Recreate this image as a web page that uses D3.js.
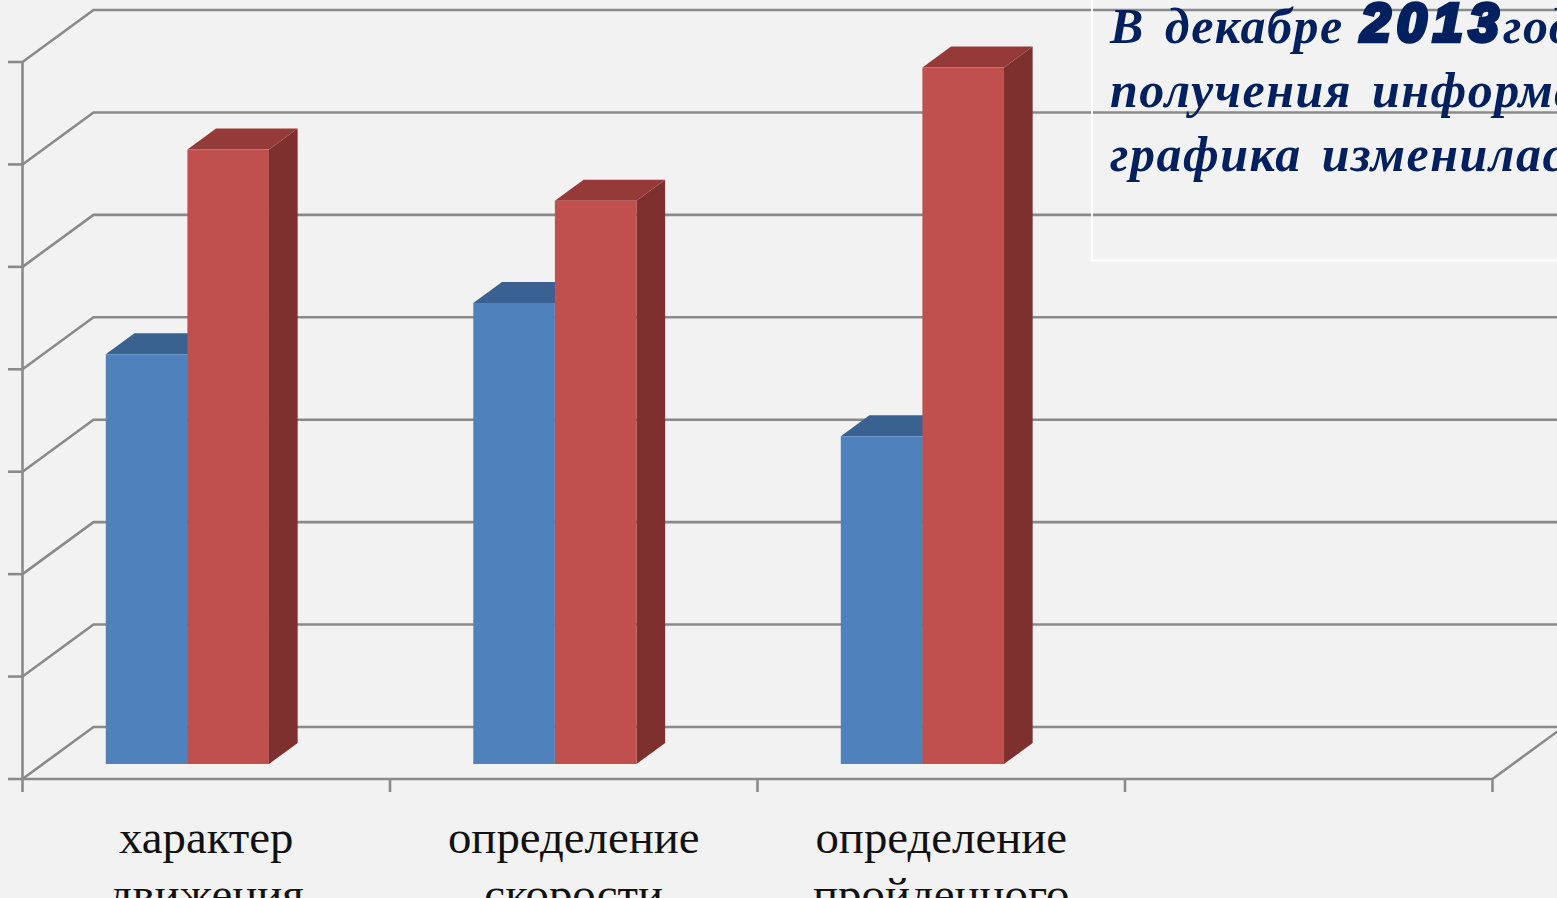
<!DOCTYPE html>
<html lang="ru">
<head>
<meta charset="utf-8">
<script src="https://cdnjs.cloudflare.com/ajax/libs/d3/7.8.5/d3.min.js"></script>
<style>
html, body { margin: 0; padding: 0; background: #f2f2f2; overflow: hidden; }
svg { display: block; }
.cat { font-family: "Liberation Serif", serif; font-size: 46.8px; fill: #111; text-anchor: middle; }
.note { font-family: "Liberation Serif", serif; font-style: italic; font-weight: bold; font-size: 50px; fill: #002060; letter-spacing: 1.5px; word-spacing: 6px; }
.year { font-family: "Liberation Sans", sans-serif; font-style: italic; font-weight: bold; font-size: 53px; fill: #002060; stroke: #002060; stroke-width: 4.5px; letter-spacing: 6.5px; }
</style>
</head>
<body>
<svg id="chart" width="1557" height="898"></svg>
<script>
// Survey results by task type, two series per group; the fourth slot stays empty.
const categories = ["характер движения", "определение скорости", "определение пройденного", ""];
const categoryLines = [["характер", "движения"], ["определение", "скорости"], ["определение", "пройденного"], []];
const seriesNames = ["a", "b"];
const seriesA = [40, 45, 32];
const seriesB = [60, 55, 68];
const valueTicks = [0, 10, 20, 30, 40, 50, 60, 70];
const noteLines = ["получения информации", "графика изменилась"];

const svg = d3.select("#chart");

// Plot box: front plane, and the shift from front plane to back wall.
const frontLeft = 22.5, frontRight = 1492.5, frontBottom = 779, frontTop = 62;
const wallDx = 71, wallDy = 52;
const barDepthStart = 15 / 52, barDepthEnd = 36 / 52;

const x = d3.scaleBand().domain(categories).range([frontLeft, frontRight]);
const xSeries = d3.scaleBand().domain(seriesNames).range([62.8, 226]);
const y = d3.scaleLinear().domain([0, 70]).range([frontBottom, frontTop]);

// Oblique projection: depth 0 is the front plane, 1 the back wall.
const project = (px, py, d) => [px + d * wallDx, py - d * wallDy];
const poly = pts => pts.map(p => p.join(",")).join(" ");

const gridColor = "#8a8a8a";
const axes = svg.append("g").attr("fill", "none").attr("stroke", gridColor).attr("stroke-width", 2.6);

valueTicks.forEach(v => {
  const [bx, by] = project(frontLeft, y(v), 1);
  axes.append("polyline").attr("points", poly([[frontLeft, y(v)], [bx, by], [1570, by]]));
  axes.append("line").attr("x1", 8).attr("x2", frontLeft).attr("y1", y(v)).attr("y2", y(v));
});

// Front axes and the floor's right edge.
axes.append("line").attr("x1", frontLeft).attr("x2", frontLeft).attr("y1", frontTop).attr("y2", frontBottom);
axes.append("line").attr("x1", frontLeft).attr("x2", frontRight).attr("y1", frontBottom).attr("y2", frontBottom);
axes.append("line").attr("x1", frontRight).attr("y1", frontBottom)
  .attr("x2", frontRight + wallDx).attr("y2", frontBottom - wallDy);

const tickXs = categories.map(c => x(c)).concat([frontRight]);
axes.selectAll("line.tick").data(tickXs).join("line").attr("class", "tick")
  .attr("x1", d => d).attr("x2", d => d).attr("y1", frontBottom).attr("y2", 792);

// Each bar is a front face plus darker top and side faces.
const palettes = {
  a: { front: "#4f81bd", top: "#3a6291", side: "#2f4f75" },
  b: { front: "#c0504d", top: "#953a38", side: "#7d302e" }
};

function drawBar(g, cat, name, value) {
  const left = x(cat) + xSeries(name), right = left + xSeries.bandwidth();
  const top = y(value), base = y(0);
  const colors = palettes[name];
  g.append("polygon").attr("fill", colors.side).attr("points", poly([
    project(right, base, barDepthStart), project(right, base, barDepthEnd),
    project(right, top, barDepthEnd), project(right, top, barDepthStart)
  ]));
  g.append("polygon").attr("fill", colors.top).attr("points", poly([
    project(left, top, barDepthStart), project(left, top, barDepthEnd),
    project(right, top, barDepthEnd), project(right, top, barDepthStart)
  ]));
  g.append("polygon").attr("fill", colors.front).attr("points", poly([
    project(left, base, barDepthStart), project(right, base, barDepthStart),
    project(right, top, barDepthStart), project(left, top, barDepthStart)
  ]));
}

const bars = svg.append("g");
seriesA.forEach((v, i) => {
  drawBar(bars, categories[i], "a", v);
  drawBar(bars, categories[i], "b", seriesB[i]);
});

// Category labels under the axis.
const labels = svg.append("g");
categoryLines.forEach((lines, i) => {
  lines.forEach((line, j) => {
    labels.append("text").attr("class", "cat")
      .attr("x", x(categories[i]) + x.bandwidth() / 2)
      .attr("y", 853 + j * 57)
      .text(line);
  });
});

// Note box in the upper right corner.
const note = svg.append("g");
note.append("polyline").attr("fill", "none").attr("stroke", "#ffffff").attr("stroke-width", 1.8)
  .attr("points", poly([[1092, 0], [1092, 260.5], [1570, 260.5]]));
note.append("text").attr("class", "note").attr("x", 1110).attr("y", 43).text("В декабре");
note.append("text").attr("class", "year").attr("x", 1361).attr("y", 41).text("2013");
note.append("text").attr("class", "note").attr("x", 1503).attr("y", 43).text("года");
noteLines.forEach((t, i) => {
  note.append("text").attr("class", "note").attr("x", 1110).attr("y", 107 + i * 64).text(t);
});
</script>
</body>
</html>
